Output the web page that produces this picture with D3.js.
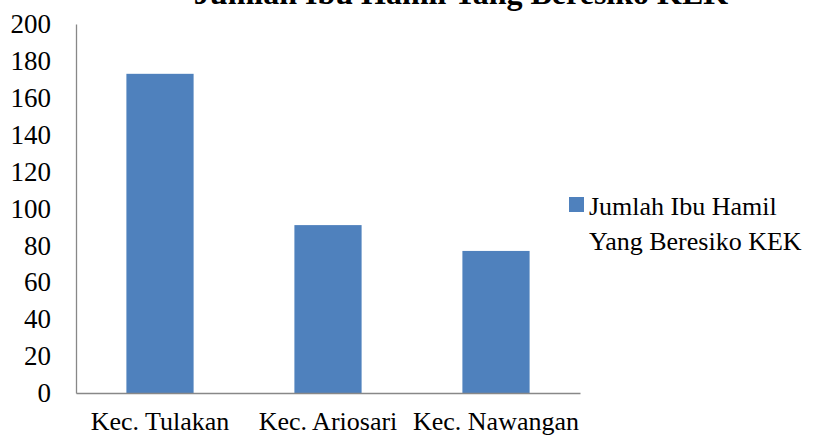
<!DOCTYPE html>
<html>
<head>
    <meta charset="utf-8">
    <title>Jumlah Ibu Hamil Yang Beresiko KEK</title>
    <style>
        body { margin: 0; background: #fff; }
        svg { display: block; font-family: "Liberation Serif", "Times New Roman", serif; }
    </style>
</head>
<body>
<script src="https://d3js.org/d3.v7.min.js"></script>
<script>
    // data
    const categories = ["Kec. Tulakan", "Kec. Ariosari", "Kec. Nawangan"];
    const values = [173, 91, 77];
    const yTicks = [0, 20, 40, 60, 80, 100, 120, 140, 160, 180, 200];
    const seriesName = ["Jumlah Ibu Hamil", "Yang Beresiko KEK"];
    const title = "Jumlah Ibu Hamil Yang Beresiko KEK";

    const width = 814;
    const height = 435;
    const margin = { top: 24, left: 76, right: 234, bottom: 42 };

    const svg = d3.select("body")
        .append("svg")
        .attr("width", width)
        .attr("height", height);

    const x = d3.scaleBand()
        .domain(categories)
        .range([margin.left, width - margin.right])
        .paddingInner(0.6)
        .paddingOuter(0.3);

    const y = d3.scaleLinear()
        .domain([0, 200])
        .range([height - margin.bottom, margin.top]);

    // title, clipped at the top edge like the original
    svg.append("text")
        .attr("x", 461)
        .attr("y", 4)
        .attr("text-anchor", "middle")
        .attr("font-weight", "bold")
        .attr("font-size", 32)
        .text(title);

    // bars
    svg.selectAll("rect.bar")
        .data(values)
        .enter()
        .append("rect")
        .attr("class", "bar")
        .attr("x", (d, i) => x(categories[i]))
        .attr("width", x.bandwidth())
        .attr("y", d => y(d))
        .attr("height", d => y(0) - y(d))
        .attr("fill", "#4f81bd");

    // y axis
    const yAxis = svg.append("g")
        .attr("transform", `translate(${margin.left},0)`)
        .call(d3.axisLeft(y).tickValues(yTicks).tickSize(0).tickPadding(25));
    yAxis.select(".domain").attr("stroke", "#888").attr("stroke-width", 1.3);
    yAxis.selectAll("text").attr("font-size", 27).attr("fill", "#000")
        .attr("font-family", "Liberation Serif");

    // x axis
    const xAxis = svg.append("g")
        .attr("transform", `translate(0,${y(0)})`)
        .call(d3.axisBottom(x).tickSize(0).tickPadding(19));
    xAxis.select(".domain").attr("stroke", "#888").attr("stroke-width", 1.3);
    xAxis.selectAll("text").attr("font-size", 26).attr("fill", "#000")
        .attr("font-family", "Liberation Serif");

    // legend
    const legend = svg.append("g").attr("transform", "translate(569,197)");
    legend.append("rect")
        .attr("width", 15)
        .attr("height", 15)
        .attr("fill", "#4f81bd");
    legend.selectAll("text")
        .data(seriesName)
        .enter()
        .append("text")
        .attr("x", 20)
        .attr("y", (d, i) => 18 + i * 35)
        .attr("font-size", 26)
        .text(d => d);
</script>
</body>
</html>
